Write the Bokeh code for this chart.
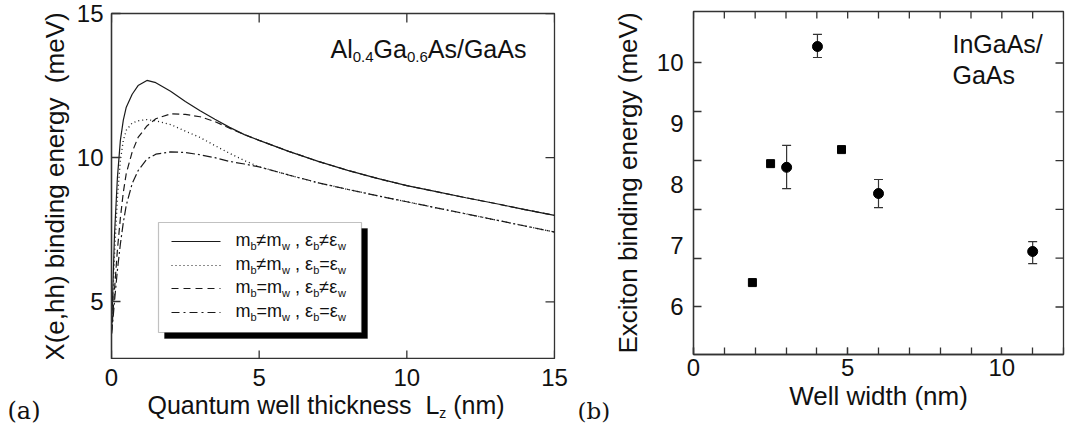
from bokeh.plotting import figure
from bokeh.models import Range1d, FixedTicker, Label, BoxAnnotation, Whisker, ColumnDataSource, TeeHead
from bokeh.layouts import row, column
from bokeh.embed import file_html
from bokeh.resources import INLINE

# ---------------- data: panel (a) ----------------
lz = [0, 0.05, 0.1, 0.2, 0.3, 0.4, 0.5, 0.7, 0.9, 1.2, 1.5, 2.0, 2.5, 3.0, 3.5, 4.0, 4.5, 5.0,
      6.0, 7.0, 8.0, 9.0, 10.0, 11.0, 12.0, 13.0, 14.0, 15.0]
e_mneq_eneq = [3.9, 5.6, 7.3, 9.3, 10.6, 11.3, 11.75, 12.2, 12.5, 12.68, 12.6, 12.3, 11.95, 11.63, 11.33, 11.05, 10.8, 10.6,
               10.22, 9.87, 9.56, 9.28, 9.03, 8.82, 8.61, 8.41, 8.2, 8.0]
e_mneq_eeq = [3.9, 5.2, 6.6, 8.6, 9.9, 10.6, 10.95, 11.2, 11.28, 11.32, 11.28, 11.15, 10.92, 10.7, 10.42, 10.15, 9.9, 9.68,
              9.4, 9.13, 8.9, 8.68, 8.47, 8.26, 8.05, 7.84, 7.63, 7.42]
e_meq_eneq = [3.9, 4.6, 5.4, 6.8, 7.9, 8.8, 9.45, 10.2, 10.7, 11.1, 11.35, 11.52, 11.5, 11.42, 11.25, 11.02, 10.8, 10.6,
              10.22, 9.87, 9.56, 9.28, 9.03, 8.82, 8.61, 8.41, 8.2, 8.0]
e_meq_eeq = [3.9, 4.4, 5.0, 6.1, 7.0, 7.75, 8.35, 9.1, 9.55, 9.95, 10.12, 10.2, 10.18, 10.1, 10.0, 9.87, 9.78, 9.68,
             9.4, 9.13, 8.9, 8.68, 8.47, 8.26, 8.05, 7.84, 7.63, 7.42]

# ---------------- data: panel (b) ----------------
sq_width = [1.91, 2.50, 4.80]
sq_energy = [6.40, 8.35, 8.58]
ci_width = [3.02, 4.02, 6.0, 11.0]
ci_energy = [8.29, 10.27, 7.86, 6.91]
ci_lower = [7.94, 10.09, 7.63, 6.71]
ci_upper = [8.65, 10.47, 8.09, 7.07]

a_xticks = [0, 5, 10, 15]
a_xlabels = ["0", "5", "10", "15"]
a_yticks = [5, 10, 15]
b_xticks = [0, 5, 10]
b_xminor = list(range(0, 13))
b_yticks = [6, 7, 8, 9, 10]
b_yminor = [6.0, 6.8, 7.6, 8.4, 9.2, 10.0]

FONT = "Liberation Sans"
SERIF = "DejaVu Serif"
INK = "#111111"
AX = "#333333"
LC = "#1a1a1a"
MID = 0.35   # distance (in em) from alphabetic baseline up to the text box middle

W = {' ': 0.278, '\u00a0': 0.278, '(': 0.333, ')': 0.333, ',': 0.278, '.': 0.278, '/': 0.278,
     '=': 0.584, '\u2260': 0.584, '\u03b5': 0.45, 'A': 0.667, 'G': 0.778, 'L': 0.556, 'Q': 0.778,
     'a': 0.556, 'b': 0.556, 'c': 0.5, 'e': 0.556, 'h': 0.556, 'i': 0.222, 'k': 0.5, 'l': 0.222,
     'm': 0.833, 'n': 0.556, 's': 0.5, 't': 0.278, 'u': 0.556, 'w': 0.722, 'z': 0.5}


def tw(s, size):
    return sum(W.get(c, 0.556) for c in s) * size


def text(p, x, y, s, size, font=FONT, align="left", dx=0.0, dy=0.0):
    """Place text so that its alphabetic baseline sits at data y (dy: px downward shift)."""
    p.add_layout(Label(x=x, y=y, x_offset=dx, y_offset=MID * size - dy, text=s, text_font=font,
                       text_font_size=f"{size}px", text_baseline="middle", text_align=align,
                       text_color=INK))


def rich(p, x, y, parts, size_main, size_sub, sub_dy):
    off = 0.0
    for txt, is_sub in parts:
        sz = size_sub if is_sub else size_main
        lead = len(txt) - len(txt.lstrip(' '))
        core = txt.strip(' ')
        if core:
            text(p, x, y, core, sz, dx=off + tw(' ' * lead, sz), dy=sub_dy if is_sub else 0)
        off += tw(txt, sz)


def style_axis(ax, size=24):
    ax.axis_line_color = AX
    ax.axis_line_width = 1.3
    ax.major_tick_line_color = AX
    ax.minor_tick_line_color = AX
    ax.major_tick_line_width = 1.3
    ax.minor_tick_line_width = 1.3
    ax.major_tick_out = 0
    ax.minor_tick_out = 0
    ax.major_label_text_font = FONT
    ax.major_label_text_font_size = f"{size}px"
    ax.major_label_text_color = INK
    ax.axis_label_text_font = FONT
    ax.axis_label_text_font_style = "normal"
    ax.axis_label_text_color = INK
    ax.axis_label_text_font_size = "26px"


# ================= panel (a) =================
A_L, A_R, A_T, A_B = 111, 554, 13, 359
SPLIT = 609
STRIP_H = 431 - A_B


def ax_x(px):
    return (px - A_L) / (A_R - A_L) * 15


def ax_y(py):
    return 3 + (A_B - py) / (A_B - A_T) * 12


pa = figure(frame_width=A_R - A_L, frame_height=A_B - A_T, x_range=Range1d(0, 15), y_range=Range1d(3, 15),
            output_backend="svg", toolbar_location=None, frame_align=False, x_axis_location=None,
            min_border_left=A_L, min_border_right=SPLIT - A_R, min_border_top=A_T, min_border_bottom=0)
pa.grid.visible = False
pa.outline_line_color = AX
pa.outline_line_width = 1.3
pa.yaxis.ticker = FixedTicker(ticks=a_yticks, minor_ticks=[])
for ax in pa.yaxis:
    style_axis(ax)
    ax.major_tick_in = 9
pa.yaxis.major_label_standoff = 8
pa.yaxis.axis_label = "X(e,hh) binding energy\u00a0 (meV)"
pa.yaxis.axis_label_standoff = 4

# inward ticks on bottom, top and right edges
ta = 9 / (A_B - A_T) * 12
ra = 9 / (A_R - A_L) * 15
pa.segment(x0=a_xticks, y0=[3] * len(a_xticks), x1=a_xticks, y1=[3 + ta] * len(a_xticks),
           line_color=AX, line_width=1.3)
pa.segment(x0=a_xticks, y0=[15] * len(a_xticks), x1=a_xticks, y1=[15 - ta] * len(a_xticks),
           line_color=AX, line_width=1.3)
pa.segment(x0=[15] * len(a_yticks), y0=a_yticks, x1=[15 - ra] * len(a_yticks), y1=a_yticks,
           line_color=AX, line_width=1.3)

pa.line(lz, e_meq_eeq, line_color=LC, line_width=1.2, line_dash="9 3 2 3")
pa.line(lz, e_mneq_eeq, line_color=LC, line_width=1.3, line_dash="1 3")
pa.line(lz, e_meq_eneq, line_color=LC, line_width=1.2, line_dash="7 4")
pa.line(lz, e_mneq_eneq, line_color=LC, line_width=1.2)

# legend box with shadow
pa.add_layout(BoxAnnotation(left=ax_x(164), right=ax_x(367), top=ax_y(228), bottom=ax_y(338),
                            fill_color="black", fill_alpha=1, line_color="black", level="underlay"))
pa.add_layout(BoxAnnotation(left=ax_x(158), right=ax_x(361), top=ax_y(222), bottom=ax_y(332),
                            fill_color="white", fill_alpha=1, line_color=AX, line_width=1.2, level="underlay"))
rows_y = [241, 265, 288, 312]
dashes = ["solid", "1 3", "7 5", "8 4 2 4"]
legend_parts = [
    [("m", 0), ("b", 1), ("\u2260m", 0), ("w", 1), (" , \u03b5", 0), ("b", 1), ("\u2260\u03b5", 0), ("w", 1)],
    [("m", 0), ("b", 1), ("\u2260m", 0), ("w", 1), (" , \u03b5", 0), ("b", 1), ("=\u03b5", 0), ("w", 1)],
    [("m", 0), ("b", 1), ("=m", 0), ("w", 1), (" , \u03b5", 0), ("b", 1), ("\u2260\u03b5", 0), ("w", 1)],
    [("m", 0), ("b", 1), ("=m", 0), ("w", 1), (" , \u03b5", 0), ("b", 1), ("=\u03b5", 0), ("w", 1)],
]
for ry, dsh, parts in zip(rows_y, dashes, legend_parts):
    pa.segment(x0=[ax_x(171)], y0=[ax_y(ry)], x1=[ax_x(220)], y1=[ax_y(ry)],
               line_color=LC, line_width=1.2, line_dash=dsh)
    rich(pa, ax_x(235), ax_y(ry + 5), parts, 18, 11, 3)

# material label
rich(pa, ax_x(330), ax_y(57), [("Al", 0), ("0.4", 1), ("Ga", 0), ("0.6", 1), ("As/GaAs", 0)], 25, 15, 5)

# ============ strip under panel (a): same x scale as panel (a) ============
strip = figure(width=SPLIT, height=STRIP_H, x_range=Range1d(ax_x(0), ax_x(SPLIT)), y_range=Range1d(0, STRIP_H),
               output_backend="svg", toolbar_location=None, x_axis_type=None, y_axis_type=None,
               min_border_left=0, min_border_right=0, min_border_top=0, min_border_bottom=0,
               outline_line_color=None, frame_align=False)
strip.grid.visible = False


def sy(py):
    return 431 - py


for t, lab in zip(a_xticks, a_xlabels):
    text(strip, t, sy(385), lab, 24, align="center")

rich(strip, ax_x(147), sy(413), [("Quantum well thickness\u00a0 L", 0), ("z", 1), (" (nm)", 0)], 25, 14, 4)
text(strip, ax_x(7), sy(419), "(a)", 24, font=SERIF)
text(strip, ax_x(577), sy(419), "(b)", 23, font=SERIF)

# ================= panel (b) =================
B_L, B_R, B_T, B_B = 693, 1063, 11, 354
BY0, BY1 = 5.221, 10.844


def bx_x(px):
    return (px - B_L) / (B_R - B_L) * 12


def bx_y(py):
    return BY0 + (B_B - py) / (B_B - B_T) * (BY1 - BY0)


pb = figure(frame_width=B_R - B_L, frame_height=B_B - B_T, x_range=Range1d(0, 12), y_range=Range1d(BY0, BY1),
            output_backend="svg", toolbar_location=None, frame_align=False,
            min_border_left=B_L - SPLIT, min_border_right=1066 - B_R, min_border_top=B_T, min_border_bottom=431 - B_B)
pb.grid.visible = False
pb.outline_line_color = AX
pb.outline_line_width = 1.3
pb.xaxis.ticker = FixedTicker(ticks=b_xticks, minor_ticks=b_xminor)
pb.yaxis.ticker = FixedTicker(ticks=b_yticks, minor_ticks=b_yminor)
for ax in pb.xaxis + pb.yaxis:
    style_axis(ax)
pb.xaxis.major_tick_in = 7
pb.xaxis.minor_tick_in = 7
pb.yaxis.major_tick_in = 0
pb.yaxis.minor_tick_in = 8
pb.xaxis.major_label_standoff = 4
pb.yaxis.major_label_standoff = 10
pb.xaxis.axis_label = "Well width (nm)"
pb.yaxis.axis_label = "Exciton binding energy (meV)"
pb.xaxis.axis_label_standoff = 2
pb.yaxis.axis_label_standoff = 11

tb = 7 / (B_B - B_T) * (BY1 - BY0)
rb = 8 / (B_R - B_L) * 12
pb.segment(x0=b_xminor, y0=[BY1] * len(b_xminor), x1=b_xminor, y1=[BY1 - tb] * len(b_xminor),
           line_color=AX, line_width=1.3)
pb.segment(x0=[12] * len(b_yminor), y0=b_yminor, x1=[12 - rb] * len(b_yminor), y1=b_yminor,
           line_color=AX, line_width=1.3)

src = ColumnDataSource(data=dict(x=ci_width, y=ci_energy, lo=ci_lower, hi=ci_upper))
pb.add_layout(Whisker(source=src, base="x", lower="lo", upper="hi", line_color=AX, line_width=1.2,
                      upper_head=TeeHead(size=9, line_color=AX, line_width=1.2),
                      lower_head=TeeHead(size=9, line_color=AX, line_width=1.2)))
pb.scatter("x", "y", source=src, marker="circle", size=10, fill_color="black", line_color="black")
pb.scatter(sq_width, sq_energy, marker="square", size=8, fill_color="black", line_color="black")

text(pb, bx_x(952), bx_y(52), "InGaAs/", 25)
text(pb, bx_x(952), bx_y(83), "GaAs", 25)

layout = row(column(pa, strip), pb)
open("out.html", "w").write(file_html(layout, INLINE))
